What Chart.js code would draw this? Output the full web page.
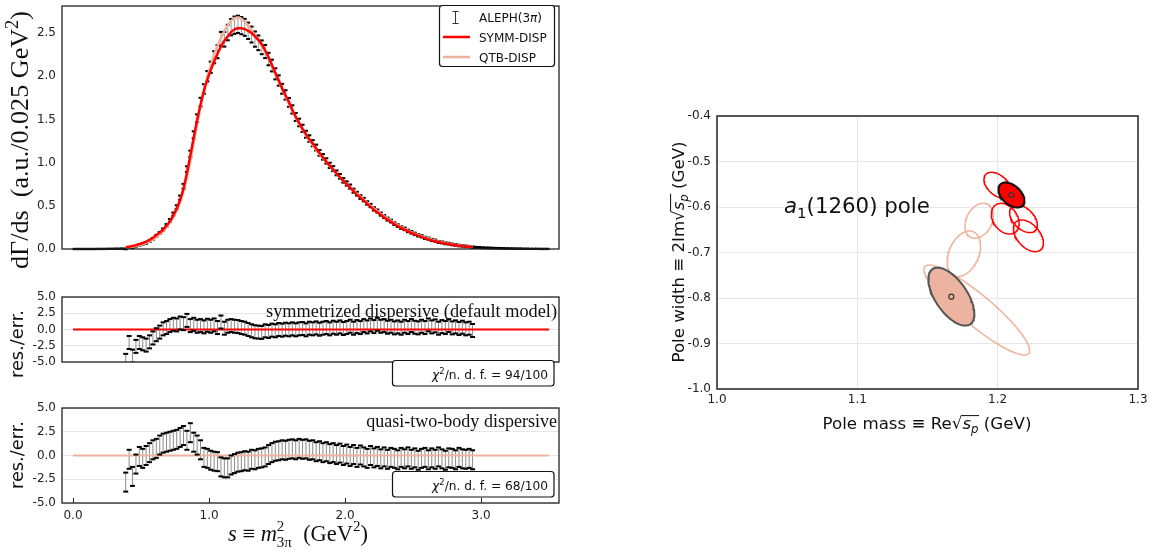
<!DOCTYPE html>
<html>
<head>
<meta charset="utf-8">
<script src="https://cdn.jsdelivr.net/npm/chart.js@4.4.1/dist/chart.umd.min.js"></script>
<style>
  html, body { margin: 0; padding: 0; background: #fff; }
  #wrap { position: relative; width: 1160px; height: 554px; overflow: hidden; }
  #wrap canvas { position: absolute; left: 0; top: 0; }
</style>
</head>
<body>
<div id="wrap">
  <canvas id="cTop" width="1160" height="554"></canvas>
  <canvas id="cRes1" width="1160" height="554"></canvas>
  <canvas id="cRes2" width="1160" height="554"></canvas>
  <canvas id="cPole" width="1160" height="554"></canvas>
</div>
<script>
// --- ALEPH tau -> 3pi spectrum, bins of 0.025 GeV^2 starting at s = 0.0125
const binStart = 0.0125, binWidth = 0.025;
const aleph = [
  0, 0, 0, 0, 0, 0, 0, 0.001, 0.001, 0.001, 0.002, 0.002, 0.003, 0.003, 0.004,
  0.001, 0.019, 0.015, 0.032, 0.045, 0.057, 0.068, 0.090, 0.118, 0.152,
  0.186, 0.226, 0.274, 0.330, 0.404, 0.485, 0.594, 0.725, 0.925, 1.102,
  1.322, 1.513, 1.700, 1.852, 1.999, 2.103, 2.219, 2.283, 2.432, 2.427,
  2.505, 2.567, 2.590, 2.600, 2.585, 2.565, 2.525, 2.482, 2.429, 2.386,
  2.334, 2.285, 2.198, 2.123, 2.027, 1.950, 1.854, 1.783, 1.697, 1.615,
  1.528, 1.464, 1.396, 1.328, 1.278, 1.224, 1.174, 1.112, 1.066, 1.019,
  0.968, 0.930, 0.881, 0.841, 0.794, 0.758, 0.722, 0.675, 0.640, 0.601,
  0.572, 0.533, 0.503, 0.464, 0.439, 0.404, 0.375, 0.346, 0.323, 0.294,
  0.271, 0.248, 0.233, 0.209, 0.193, 0.175, 0.158, 0.147, 0.129, 0.120,
  0.105, 0.097, 0.082, 0.076, 0.066, 0.062, 0.053, 0.048, 0.040, 0.037,
  0.031, 0.028, 0.021,
  0.019, 0.017, 0.015, 0.013, 0.012, 0.010, 0.009, 0.008, 0.007, 0.006, 0.005,
  0.005, 0.004, 0.004, 0.003, 0.003, 0.002, 0.002, 0.002, 0.001, 0.001, 0.001
];
const alephErr = [
  0.002, 0.002, 0.002, 0.002, 0.002, 0.002, 0.002, 0.002, 0.002, 0.002, 0.002, 0.002, 0.002, 0.002, 0.002,
  0.004, 0.004, 0.005, 0.005, 0.006, 0.006, 0.007, 0.008, 0.009, 0.010,
  0.011, 0.012, 0.014, 0.016, 0.018, 0.021, 0.024, 0.028, 0.032, 0.036,
  0.040, 0.045, 0.050, 0.055, 0.060, 0.065, 0.070, 0.075, 0.080, 0.085,
  0.090, 0.095, 0.100, 0.100, 0.100, 0.098, 0.095, 0.092, 0.088, 0.085,
  0.080, 0.076, 0.072, 0.068, 0.064, 0.060, 0.057, 0.054, 0.051, 0.048,
  0.046, 0.044, 0.042, 0.040, 0.038, 0.036, 0.034, 0.033, 0.032, 0.031,
  0.030, 0.029, 0.028, 0.027, 0.026, 0.025, 0.024, 0.023, 0.022, 0.021,
  0.020, 0.020, 0.019, 0.019, 0.018, 0.018, 0.017, 0.017, 0.016, 0.016,
  0.015, 0.015, 0.015, 0.014, 0.014, 0.014, 0.013, 0.013, 0.013, 0.012,
  0.012, 0.012, 0.011, 0.011, 0.011, 0.010, 0.010, 0.010, 0.009, 0.009,
  0.009, 0.008, 0.008,
  0.006, 0.006, 0.005, 0.005, 0.005, 0.004, 0.004, 0.004, 0.004, 0.003, 0.003,
  0.003, 0.003, 0.003, 0.002, 0.002, 0.002, 0.002, 0.002, 0.002, 0.002, 0.002
];

// --- fit curves and residuals, fit range starts at bin 15
const fitFirstBin = 15;
const symmDisp = [
  0.020, 0.027, 0.035, 0.045, 0.057, 0.070, 0.085, 0.105, 0.130, 0.160,
  0.190, 0.225, 0.270, 0.320, 0.390, 0.470, 0.570, 0.700, 0.880, 1.080,
  1.290, 1.490, 1.670, 1.830, 1.960, 2.070, 2.170, 2.260, 2.340, 2.410,
  2.460, 2.510, 2.540, 2.555, 2.555, 2.545, 2.525, 2.500, 2.460, 2.420,
  2.370, 2.300, 2.220, 2.130, 2.040, 1.950, 1.860, 1.780, 1.700, 1.610,
  1.530, 1.460, 1.390, 1.330, 1.270, 1.220, 1.165, 1.110, 1.060, 1.010,
  0.965, 0.920, 0.875, 0.830, 0.790, 0.750, 0.710, 0.670, 0.630, 0.595,
  0.560, 0.525, 0.490, 0.455, 0.425, 0.395, 0.365, 0.340, 0.315, 0.290,
  0.265, 0.245, 0.225, 0.205, 0.185, 0.170, 0.155, 0.140, 0.125, 0.112,
  0.100, 0.090, 0.080, 0.071, 0.063, 0.056, 0.050, 0.044, 0.039, 0.034,
  0.030, 0.026, 0.022
];
const qtbDisp = [
  0.014, 0.020, 0.026, 0.035, 0.045, 0.057, 0.070, 0.087, 0.110, 0.140,
  0.172, 0.208, 0.252, 0.305, 0.372, 0.448, 0.548, 0.672, 0.835, 1.020,
  1.235, 1.450, 1.650, 1.830, 1.990, 2.125, 2.250, 2.350, 2.440, 2.520,
  2.590, 2.640, 2.672, 2.680, 2.665, 2.630, 2.585, 2.530, 2.472, 2.412,
  2.350, 2.285, 2.210, 2.120, 2.030, 1.940, 1.850, 1.765, 1.680, 1.600,
  1.520, 1.450, 1.382, 1.318, 1.258, 1.200, 1.148, 1.098, 1.050, 1.004,
  0.958, 0.914, 0.871, 0.830, 0.790, 0.752, 0.714, 0.676, 0.640, 0.604,
  0.570, 0.536, 0.502, 0.469, 0.438, 0.408, 0.379, 0.352, 0.326, 0.300,
  0.277, 0.255, 0.234, 0.214, 0.196, 0.179, 0.163, 0.148, 0.134, 0.121,
  0.109, 0.098, 0.088, 0.079, 0.070, 0.062, 0.055, 0.049, 0.043, 0.038,
  0.033, 0.029, 0.025
];
const resSymm = [
  -4.75, -2.0, -4.1, -2.6, -2.0, -2.2, -2.4, -1.9, -1.3, -0.8,
  -0.4, 0.1, 0.3, 0.6, 0.8, 0.7, 1.0, 0.9, 1.4, 0.6,
  0.8, 0.5, 0.6, 0.4, 0.65, 0.5, 0.7, 0.3, 1.15, 0.2,
  0.5, 0.6, 0.5, 0.45, 0.3, 0.2, 0.0, -0.2, -0.35, -0.4,
  -0.45, -0.2, -0.3, -0.1, -0.2, 0.0, -0.1, 0.05, -0.05, 0.1,
  -0.05, 0.1, 0.15, -0.05, 0.2, 0.1, 0.25, 0.05, 0.2, 0.3,
  0.1, 0.35, 0.2, 0.4, 0.15, 0.3, 0.5, 0.2, 0.45, 0.3,
  0.6, 0.4, 0.7, 0.45, 0.8, 0.5, 0.6, 0.35, 0.5, 0.25,
  0.4, 0.2, 0.5, 0.3, 0.6, 0.35, 0.25, 0.5, 0.3, 0.7,
  0.4, 0.55, 0.2, 0.45, 0.3, 0.6, 0.25, 0.4, 0.15, 0.35,
  0.1, 0.2, -0.15
];
const resQtb = [
  -2.8, -0.4, -2.2, -0.9, -0.1, -0.3, 0.0, 0.3, 0.6, 0.75,
  1.1, 1.3, 1.4, 1.5, 1.6, 1.7, 1.9, 2.1, 1.6, 2.4,
  1.4, 1.1, 0.6, -0.2, -0.3, -0.5, -0.6, -0.65, -1.2, -1.3,
  -1.3, -1.0, -0.85, -0.7, -0.65, -0.55, -0.6, -0.4, -0.45, -0.3,
  -0.25, -0.15, 0.1, 0.3, 0.45, 0.5, 0.6, 0.55, 0.65, 0.7,
  0.6, 0.75, 0.65, 0.7, 0.55, 0.6, 0.4, 0.5, 0.3, 0.4,
  0.2, 0.3, 0.1, 0.25, 0.0, 0.15, -0.1, 0.1, -0.2, 0.05,
  -0.15, -0.3, 0.0, -0.25, -0.1, -0.35, -0.15, -0.4, -0.2, -0.3,
  -0.45, -0.2, -0.35, -0.15, -0.4, -0.25, -0.5, -0.3, -0.2, -0.45,
  -0.25, -0.4, -0.15, -0.35, -0.5, -0.25, -0.3, -0.45, -0.2, -0.35,
  -0.4, -0.3, -0.45
];
const modelRange = [0.0, 3.5];

// --- axes
const sRange = [-0.081, 3.573];
const sTicks = [0, 1, 2, 3];
const rateTicks = [0, 0.5, 1.0, 1.5, 2.0, 2.5];
const resTicks = [-5, -2.5, 0, 2.5, 5];
const massTicks = [1.0, 1.1, 1.2, 1.3];
const widthTicks = [-1.0, -0.9, -0.8, -0.7, -0.6, -0.5, -0.4];

// --- a1(1260) poles: [mass, width, half-size mass, half-size width, correlation]
const symmPoles = [
  [1.2000, -0.5523, 0.0098, 0.0286, -0.45],
  [1.2054, -0.6257, 0.0099, 0.0337, -0.30],
  [1.2184, -0.6259, 0.0099, 0.0304, -0.45],
  [1.2219, -0.6633, 0.0107, 0.0348, -0.45]
];
const qtbPoles = [
  [1.1868, -0.6303, 0.0101, 0.0385, 0.30],
  [1.1759, -0.7029, 0.0119, 0.0502, 0.35],
  [1.1851, -0.8264, 0.0377, 0.0989, -0.90]
];
const symmBest = [1.2098, -0.5736, 0.0093, 0.0275, -0.45];
const qtbBest = [1.1670, -0.7970, 0.0164, 0.0637, -0.60];

const RED = '#ff0000';
const SALMON = '#efb29c';
const SALMON_FILL = '#ecb4a0';
const SANS = '"DejaVu Sans", sans-serif';
const SERIF = '"Liberation Serif", "DejaVu Serif", serif';
const W = 1160, H = 554;

Chart.defaults.font.family = SANS;
Chart.defaults.color = '#222';

// plot areas on the page
const areaTop  = { l: 62, t: 1, r: 559, b: 279 };
const areaRes1 = { l: 62, t: 297, r: 559, b: 392 };
const areaRes2 = { l: 62, t: 408, r: 559, b: 503 };
const areaPole = { l: 717, t: 116, r: 1138, b: 389 };

const sAll = aleph.map((_, i) => +(binStart + binWidth * i).toFixed(4));
const sFit = symmDisp.map((_, k) => sAll[fitFirstBin + k]);
const pts = (xs, ys) => ys.map((y, i) => ({ x: xs[i], y }));

// ---------- drawing helpers
function fontOf(s, fam, k) {
  return (s.it ? 'italic ' : '') + (s.size * k).toFixed(2) + 'px ' + (s.fam || fam);
}
// segments of text; 'stay' keeps x (super+subscript), 'root' marks the radical
// after which 'over' segments get a vinculum at the radical's top
function richText(ctx, segs, o) {
  const meas = k => {
    let w = 0;
    segs.forEach(s => {
      ctx.font = fontOf(s, o.fam, k);
      const m = ctx.measureText(s.t);
      s.w = m.width;
      s.asc = m.actualBoundingBoxAscent;
      if (!s.stay) w += s.w;
    });
    return w;
  };
  let k = 1, total = meas(1);
  if (o.width) { k = o.width / total; total = meas(k); }
  ctx.save();
  ctx.translate(o.x, o.y);
  if (o.rot) ctx.rotate(o.rot);
  ctx.textAlign = 'left';
  ctx.textBaseline = 'alphabetic';
  ctx.fillStyle = o.color || '#111';
  ctx.strokeStyle = o.color || '#111';
  let cx = o.align === 'center' ? -total / 2 : o.align === 'right' ? -total : 0;
  let barY = null, barX0 = 0, barX1 = 0;
  segs.forEach(s => {
    ctx.font = fontOf(s, o.fam, k);
    ctx.fillText(s.t, cx, (s.dy || 0) * k);
    if (s.root) { barY = -s.asc + 0.6 * k; barX0 = cx + s.w - 0.8 * k; }
    if (s.over) barX1 = cx + s.w + 0.5;
    if (!s.stay) cx += s.w;
  });
  if (barY !== null) {
    ctx.lineWidth = Math.max(1, 1.05 * k);
    ctx.beginPath();
    ctx.moveTo(barX0, barY);
    ctx.lineTo(barX1, barY);
    ctx.stroke();
  }
  ctx.restore();
}
function roundBox(ctx, x, y, w, h, r) {
  ctx.beginPath();
  ctx.moveTo(x + r, y);
  ctx.lineTo(x + w - r, y); ctx.arcTo(x + w, y, x + w, y + r, r);
  ctx.lineTo(x + w, y + h - r); ctx.arcTo(x + w, y + h, x + w - r, y + h, r);
  ctx.lineTo(x + r, y + h); ctx.arcTo(x, y + h, x, y + h - r, r);
  ctx.lineTo(x, y + r); ctx.arcTo(x, y, x + r, y, r);
  ctx.closePath();
}
function frame(chart, color, lw) {
  const { ctx, chartArea: a } = chart;
  ctx.save();
  ctx.strokeStyle = color;
  ctx.lineWidth = lw;
  ctx.strokeRect(a.left, a.top, a.right - a.left, a.bottom - a.top);
  ctx.restore();
}
function chiBox(ctx, y, value) {
  ctx.save();
  roundBox(ctx, 392.5, y, 161.5, 25.5, 3);
  ctx.fillStyle = '#fff';
  ctx.fill();
  ctx.strokeStyle = '#111';
  ctx.lineWidth = 1.2;
  ctx.stroke();
  ctx.restore();
  richText(ctx, [
    { t: 'χ', size: 13, it: true },
    { t: '2', size: 9, dy: -5 },
    { t: '/n. d. f. = ' + value, size: 13 }
  ], { fam: SANS, x: 548, y: y + 18, align: 'right', width: 116 });
}

// ---------- axis builders
function yAxisFor(a, min, max, ticks, grid) {
  return {
    type: 'linear', min, max, offset: false,
    afterFit: s => { s.width = a.l; s.paddingTop = 0; s.paddingBottom = 0; },
    afterBuildTicks: s => { s.ticks = ticks.map(v => ({ value: v })); },
    ticks: { autoSkip: false, padding: 6, color: '#222', font: { size: 12 }, callback: v => v.toFixed(1) },
    grid: { display: !!grid, color: '#e6e6e6', drawTicks: false, offset: false },
    border: { display: false }
  };
}
function sAxis(show) {
  return {
    type: 'linear', min: sRange[0], max: sRange[1], display: show, offset: false,
    afterFit: s => { s.height = 30; s.paddingLeft = 0; s.paddingRight = 0; },
    afterBuildTicks: s => { s.ticks = sTicks.map(v => ({ value: v })); },
    ticks: { autoSkip: false, maxRotation: 0, padding: 6, color: '#222', font: { size: 12 }, callback: v => v.toFixed(1) },
    grid: { display: false, drawTicks: false, offset: false },
    border: { display: false }
  };
}
function baseOptions(a, xh, scales, deco) {
  return {
    type: 'scatter',
    options: {
      responsive: false, animation: false, events: [], devicePixelRatio: 1,
      layout: { padding: { left: 0, top: a.t, right: W - a.r, bottom: H - a.b - xh } },
      plugins: { legend: { display: false }, tooltip: { enabled: false } },
      scales
    },
    plugins: [{ id: 'deco', afterDraw: deco }]
  };
}
function errorBarSets(xs, lo, hi, capR, barColor, capClip) {
  return [
    { type: 'bar', data: xs.map((x, i) => ({ x, y: [lo[i], hi[i]] })), backgroundColor: barColor,
      barThickness: 1, grouped: false, inflateAmount: 0, borderWidth: 0, order: 5, clip: 0 },
    { type: 'scatter', data: pts(xs, hi), pointStyle: 'line', pointRadius: capR, pointBorderWidth: 2,
      pointBorderColor: '#000', borderColor: '#000', order: 1, clip: capClip },
    { type: 'scatter', data: pts(xs, lo), pointStyle: 'line', pointRadius: capR, pointBorderWidth: 2,
      pointBorderColor: '#000', borderColor: '#000', order: 1, clip: capClip }
  ];
}
function curve(xs, ys, color, width, order) {
  return { type: 'scatter', showLine: true, data: pts(xs, ys), borderColor: color, borderWidth: width,
    pointRadius: 0, cubicInterpolationMode: 'monotone', order };
}

// ---------- top panel: spectrum
const topCfg = baseOptions(areaTop, 0, {
  x: sAxis(false),
  y: yAxisFor(areaTop, 0, 2.812, rateTicks, false)
}, chart => {
  const ctx = chart.ctx;
  frame(chart, '#222', 1.3);
  // legend
  ctx.save();
  roundBox(ctx, 439.5, 5.5, 115, 61, 3);
  ctx.fillStyle = '#fff'; ctx.fill();
  ctx.strokeStyle = '#111'; ctx.lineWidth = 1.2; ctx.stroke();
  ctx.strokeStyle = '#333'; ctx.lineWidth = 1;
  ctx.beginPath();
  ctx.moveTo(455.5, 11.5); ctx.lineTo(455.5, 23.5);
  ctx.moveTo(452.5, 11.5); ctx.lineTo(458.5, 11.5);
  ctx.moveTo(452.5, 23.5); ctx.lineTo(458.5, 23.5);
  ctx.stroke();
  ctx.lineWidth = 2.5;
  ctx.strokeStyle = RED;
  ctx.beginPath(); ctx.moveTo(443, 37); ctx.lineTo(470, 37); ctx.stroke();
  ctx.strokeStyle = SALMON;
  ctx.beginPath(); ctx.moveTo(443, 57); ctx.lineTo(470, 57); ctx.stroke();
  ctx.restore();
  richText(ctx, [{ t: 'ALEPH(3', size: 12 }, { t: 'π', size: 12, it: true }, { t: ')', size: 12 }],
    { fam: SANS, x: 479, y: 21.5 });
  richText(ctx, [{ t: 'SYMM-DISP', size: 12 }], { fam: SANS, x: 479, y: 41.5 });
  richText(ctx, [{ t: 'QTB-DISP', size: 12 }], { fam: SANS, x: 479, y: 61.5 });
  // y title
  richText(ctx, [
    { t: 'dΓ/ds  (a.u./0.025 GeV', size: 20 },
    { t: '2', size: 14, dy: -8 },
    { t: ')', size: 20 }
  ], { fam: SERIF, x: 28, y: 140, rot: -Math.PI / 2, align: 'center', width: 258 });
});
topCfg.data = {
  datasets: [
    ...errorBarSets(sAll, aleph.map((v, i) => v - alephErr[i]), aleph.map((v, i) => v + alephErr[i]), 2, '#9c9c9c', 3),
    curve(sFit, qtbDisp, SALMON, 2.5, 0),
    curve(sFit, symmDisp, RED, 2.5, -1)
  ]
};
new Chart(document.getElementById('cTop'), topCfg);

// ---------- residual panels
function residualChart(id, area, res, color, showX, deco) {
  const cfg = baseOptions(area, showX ? 30 : 0, {
    x: sAxis(showX),
    y: yAxisFor(area, -5, 5, resTicks, true)
  }, deco);
  cfg.data = {
    datasets: [
      ...errorBarSets(sFit, res.map(r => r - 1), res.map(r => r + 1), 2.5, '#8a8a8a', 0),
      { type: 'scatter', showLine: true, data: pts(modelRange, [0, 0]), borderColor: color,
        borderWidth: 2, pointRadius: 0, order: 2 }
    ]
  };
  return new Chart(document.getElementById(id), cfg);
}
residualChart('cRes1', areaRes1, resSymm, RED, false, chart => {
  const ctx = chart.ctx;
  frame(chart, '#222', 1.3);
  richText(ctx, [{ t: 'symmetrized dispersive (default model)', size: 17 }],
    { fam: SERIF, x: 557, y: 317, align: 'right', width: 291 });
  chiBox(ctx, 360.5, '94/100');
  richText(ctx, [{ t: 'res./err.', size: 17 }],
    { fam: SANS, x: 23, y: 344, rot: -Math.PI / 2, align: 'center', width: 68 });
});
residualChart('cRes2', areaRes2, resQtb, SALMON, true, chart => {
  const ctx = chart.ctx;
  frame(chart, '#222', 1.3);
  richText(ctx, [{ t: 'quasi-two-body dispersive', size: 17 }],
    { fam: SERIF, x: 557, y: 427, align: 'right', width: 191 });
  chiBox(ctx, 471.5, '68/100');
  richText(ctx, [{ t: 'res./err.', size: 17 }],
    { fam: SANS, x: 23, y: 455, rot: -Math.PI / 2, align: 'center', width: 68 });
  // inward ticks on the s axis
  const xs = chart.scales.x, b = chart.chartArea.bottom;
  ctx.save();
  ctx.strokeStyle = '#222'; ctx.lineWidth = 1;
  ctx.beginPath();
  sTicks.forEach(v => {
    const px = Math.round(xs.getPixelForValue(v)) + 0.5;
    ctx.moveTo(px, b); ctx.lineTo(px, b - 5);
  });
  ctx.stroke();
  ctx.restore();
  // x title
  richText(ctx, [
    { t: 's', size: 18, it: true },
    { t: ' ≡ ', size: 18 },
    { t: 'm', size: 18, it: true },
    { t: '2', size: 12, dy: -8, stay: true },
    { t: '3π', size: 12, dy: 5 },
    { t: '  (GeV', size: 18 },
    { t: '2', size: 12, dy: -8 },
    { t: ')', size: 18 }
  ], { fam: SERIF, x: 298, y: 541, align: 'center', width: 140 });
});

// ---------- pole plot
function ellipsePoints(e) {
  const [cx, cy, rx, ry, rho] = e;
  const q = Math.sqrt(1 - rho * rho);
  const out = [];
  for (let j = 0; j <= 96; j++) {
    const t = (j / 96) * 2 * Math.PI;
    out.push({ x: cx + rx * Math.cos(t), y: cy + ry * (rho * Math.cos(t) + q * Math.sin(t)) });
  }
  return out;
}
function ellipseSet(e, border, width, fillColor, order) {
  return {
    type: 'scatter', showLine: true, data: ellipsePoints(e), borderColor: border, borderWidth: width,
    pointRadius: 0, fill: fillColor ? 'shape' : false, backgroundColor: fillColor || 'transparent', order
  };
}
const poleCfg = baseOptions(areaPole, 20, {
  x: Object.assign(yAxisFor(areaPole, 1.0, 1.3, massTicks, true), {
    afterFit: s => { s.height = 20; s.paddingLeft = 0; s.paddingRight = 0; },
    ticks: { autoSkip: false, maxRotation: 0, padding: 4, color: '#222', font: { size: 12 }, callback: v => v.toFixed(1) }
  }),
  y: yAxisFor(areaPole, -1.0, -0.4, widthTicks, true)
}, chart => {
  const ctx = chart.ctx;
  frame(chart, '#333', 1.6);
  richText(ctx, [
    { t: 'a', size: 20, it: true },
    { t: '1', size: 14, dy: 5 },
    { t: '(1260) pole', size: 20 }
  ], { fam: SANS, x: 784, y: 213, width: 146 });
  const rootLabel = head => [
    { t: head, size: 17 },
    { t: '√', size: 17, root: true },
    { t: 's', size: 17, it: true },
    { t: 'p', size: 12, it: true, dy: 4, over: true },
    { t: ' (GeV)', size: 17 }
  ];
  richText(ctx, rootLabel('Pole mass ≡ Re'), { fam: SANS, x: 927, y: 429, align: 'center', width: 209 });
  richText(ctx, rootLabel('Pole width ≡ 2Im'),
    { fam: SANS, x: 684, y: 252, rot: -Math.PI / 2, align: 'center', width: 221 });
});
poleCfg.data = {
  datasets: [
    ...qtbPoles.map(e => ellipseSet(e, SALMON, 1.5, null, 6)),
    ...symmPoles.map(e => ellipseSet(e, RED, 1.5, null, 5)),
    ellipseSet(qtbBest, '#555', 2, SALMON_FILL, 3),
    ellipseSet(symmBest, '#111', 2, RED, 2),
    { type: 'scatter', data: [symmBest, qtbBest].map(e => ({ x: e[0], y: e[1] })), pointRadius: 2.5,
      pointBorderWidth: 1.2, pointBorderColor: '#333', pointBackgroundColor: 'transparent', order: 0 }
  ]
};
new Chart(document.getElementById('cPole'), poleCfg);
</script>
</body>
</html>
